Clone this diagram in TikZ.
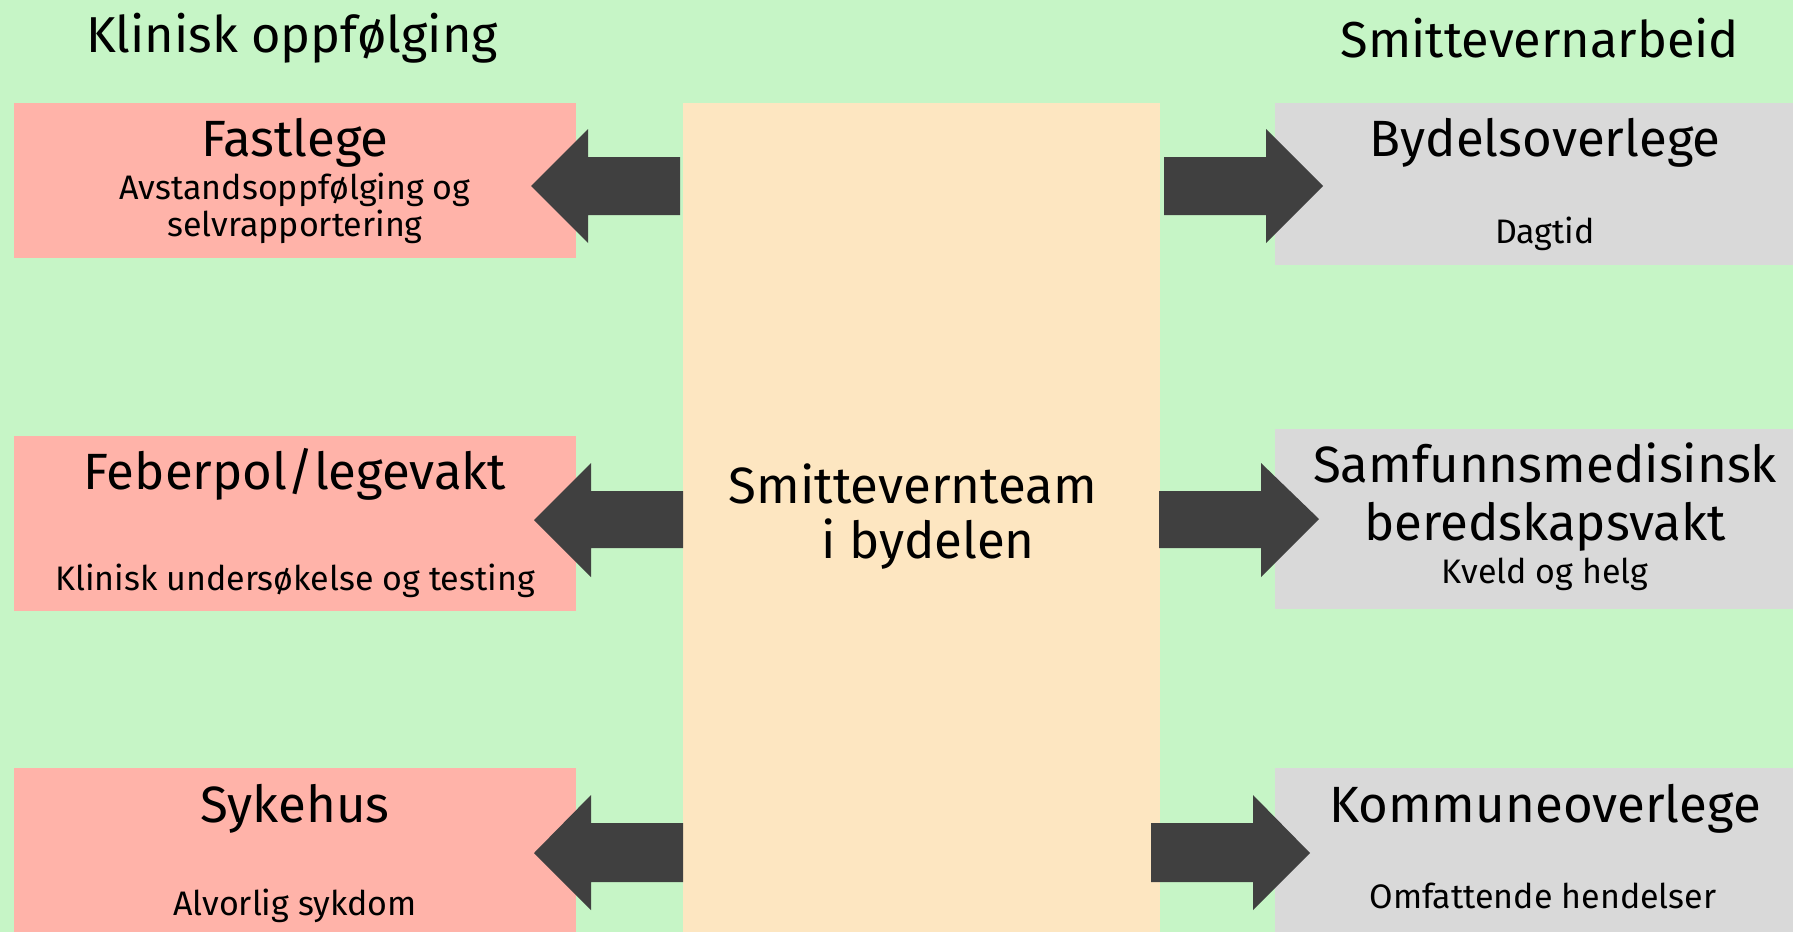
\documentclass[tikz,border=0pt]{standalone}
\usepackage{fontspec}
\setmainfont{Fira Sans}
\definecolor{bggreen}{HTML}{C6F5C6}
\definecolor{boxpink}{HTML}{FFB3A9}
\definecolor{boxpeach}{HTML}{FDE6C1}
\definecolor{boxgray}{HTML}{D9D9D9}
\definecolor{arrowgray}{HTML}{404040}
\tikzset{
  bigtxt/.style={anchor=base, inner sep=0pt, font=\fontsize{51}{59}\selectfont},
  smalltxt/.style={anchor=base, inner sep=0pt, font=\fontsize{34}{40}\selectfont},
  titletxt/.style={anchor=base, inner sep=0pt, font=\fontsize{50.5}{58}\selectfont},
  blockarrow/.style={fill=arrowgray, draw=none}
}
\begin{document}
\begin{tikzpicture}[x=1pt,y=-1pt]
\fill[bggreen] (0,0) rectangle (1793,932);
\useasboundingbox (0,0) rectangle (1793,932);
% boxes
\fill[boxpink] (14,103) rectangle (576,258);
\fill[boxpink] (14,436) rectangle (576,611);
\fill[boxpink] (14,768) rectangle (576,932);
\fill[boxpeach] (683,103) rectangle (1160,932);
\fill[boxgray] (1275,103) rectangle (1793,265);
\fill[boxgray] (1275,429) rectangle (1793,609);
\fill[boxgray] (1275,768) rectangle (1793,932);
% arrows
\fill[blockarrow] (680,157) -- (588,157) -- (588,129) -- (531,186) -- (588,243) -- (588,215) -- (680,215) -- cycle;
\fill[blockarrow] (683,491) -- (591,491) -- (591,463) -- (534,520) -- (591,577) -- (591,548) -- (683,548) -- cycle;
\fill[blockarrow] (683,823) -- (591,823) -- (591,795) -- (534,853) -- (591,910) -- (591,882) -- (683,882) -- cycle;
\fill[blockarrow] (1164,157) -- (1266,157) -- (1266,129) -- (1323,186) -- (1266,243) -- (1266,215) -- (1164,215) -- cycle;
\fill[blockarrow] (1159,491) -- (1261,491) -- (1261,463) -- (1319,519) -- (1261,577) -- (1261,548) -- (1159,548) -- cycle;
\fill[blockarrow] (1151,823) -- (1253,823) -- (1253,795) -- (1310,853) -- (1253,910) -- (1253,882) -- (1151,882) -- cycle;
% titles
\node[titletxt] (t1) at (292,52) {Klinisk oppfølging};
\node[titletxt] (t2) at (1540,57) {Smittevernarbeid};
% left texts
\node[bigtxt] (fl) at (295,156) {Fastlege};
\node[smalltxt] (fl1) at (295,199) {Avstandsoppfølging og};
\node[smalltxt] (fl2) at (295,236) {selvrapportering};
\node[bigtxt] (fp) at (295,489) {Feberpol/legevakt};
\node[smalltxt] (fp1) at (295,590) {Klinisk undersøkelse og testing};
\node[bigtxt] (sh) at (295,822) {Sykehus};
\node[smalltxt] (sh1) at (295,915) {Alvorlig sykdom};
% center
\node[bigtxt] (c1) at (913,503) {Smittevernteam};
\node[bigtxt] (c2) at (928,558) {i bydelen};
% right texts
\node[bigtxt] (bo) at (1545,156) {Bydelsoverlege};
\node[smalltxt] (bo1) at (1545,243) {Dagtid};
\node[bigtxt] (sm) at (1545,482) {Samfunnsmedisinsk};
\node[bigtxt] (sm2) at (1545,540) {beredskapsvakt};
\node[smalltxt] (sm3) at (1545,583) {Kveld og helg};
\node[bigtxt] (ko) at (1545,822) {Kommuneoverlege};
\node[smalltxt] (ko1) at (1543,908) {Omfattende hendelser};
\end{tikzpicture}
\end{document}
